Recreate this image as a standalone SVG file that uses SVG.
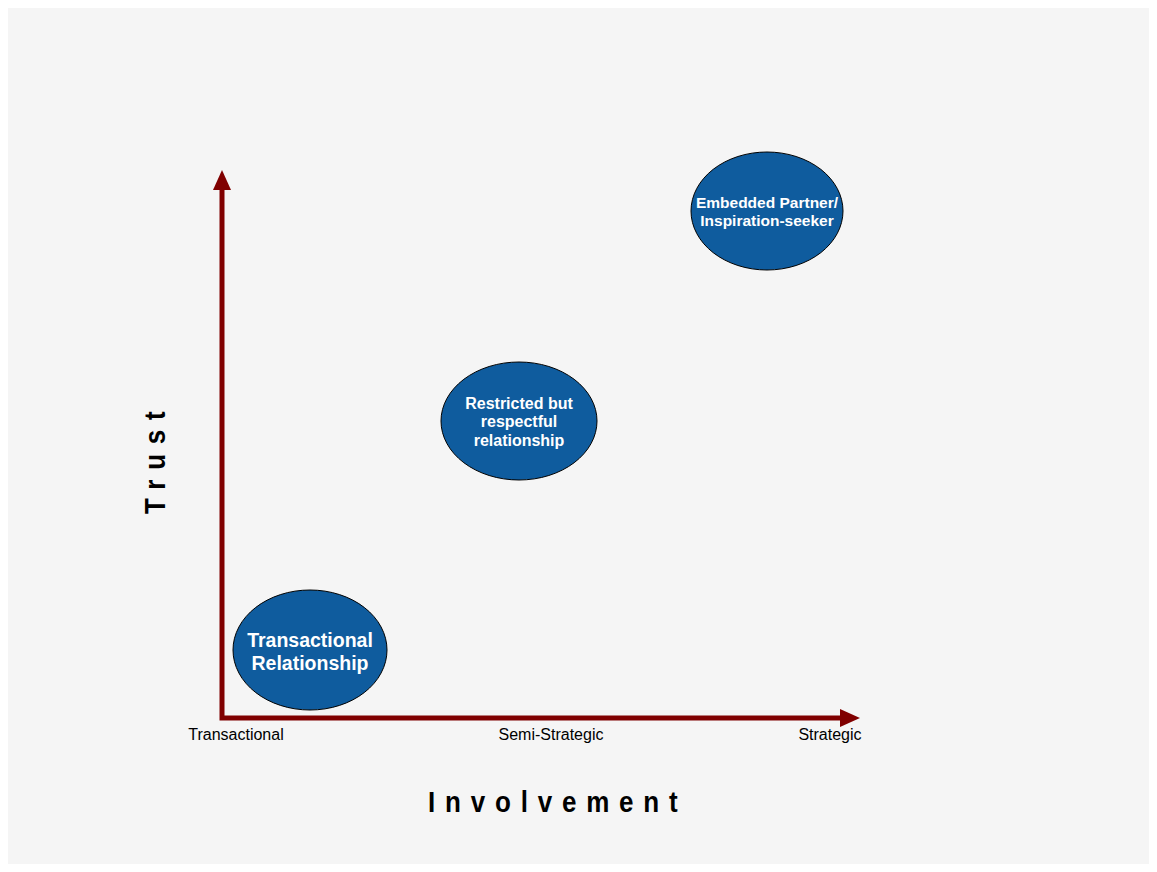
<svg xmlns="http://www.w3.org/2000/svg" width="1157" height="872" viewBox="0 0 1157 872">
<style>
.node{fill:#0f5c9e;stroke:#000;stroke-width:1}
.nt{fill:#fff;font-family:"Liberation Sans",Arial,sans-serif;font-weight:bold;text-anchor:middle}
.ax{stroke:#800000;stroke-width:5;fill:none}
.tick{font-family:"Liberation Sans",Arial,sans-serif;font-size:16px;fill:#000;text-anchor:middle}
.title{font-family:"Liberation Sans",Arial,sans-serif;font-size:26px;font-weight:bold;fill:#000;letter-spacing:9.8px}
</style>
<rect x="8" y="8" width="1141" height="856" fill="#f5f5f5"/>
<g id="connectors">
<polyline class="ax" points="222,188 222,718 842,718" stroke-linejoin="miter"/>
<polygon points="222,170 213,190 231,190" fill="#800000"/>
<polygon points="860,718 840,709 840,727" fill="#800000"/>
</g>
<g id="n1">
<ellipse class="node" cx="310" cy="650" rx="77" ry="60"/>
<text class="nt" font-size="19.5" x="310" y="647">Transactional</text>
<text class="nt" font-size="19.5" x="310" y="670">Relationship</text>
</g>
<g id="n2">
<ellipse class="node" cx="519" cy="421" rx="78" ry="59"/>
<text class="nt" font-size="16" x="519" y="409">Restricted but</text>
<text class="nt" font-size="16" x="519" y="427">respectful</text>
<text class="nt" font-size="16" x="519" y="446">relationship</text>
</g>
<g id="n3">
<ellipse class="node" cx="767" cy="211" rx="76" ry="59"/>
<text class="nt" font-size="15.5" x="767" y="208">Embedded Partner/</text>
<text class="nt" font-size="15.5" x="767" y="226">Inspiration-seeker</text>
</g>
<g id="labels">
<text class="tick" x="236" y="740">Transactional</text>
<text class="tick" x="551" y="740">Semi-Strategic</text>
<text class="tick" x="830" y="740">Strategic</text>
<text class="title" transform="translate(428,812) scale(1,1.1)" x="0" y="0">Involvement</text>
<text class="title" transform="translate(165,514) rotate(-90) scale(1,1.1)" x="0" y="0">Trust</text>
</g>
</svg>
